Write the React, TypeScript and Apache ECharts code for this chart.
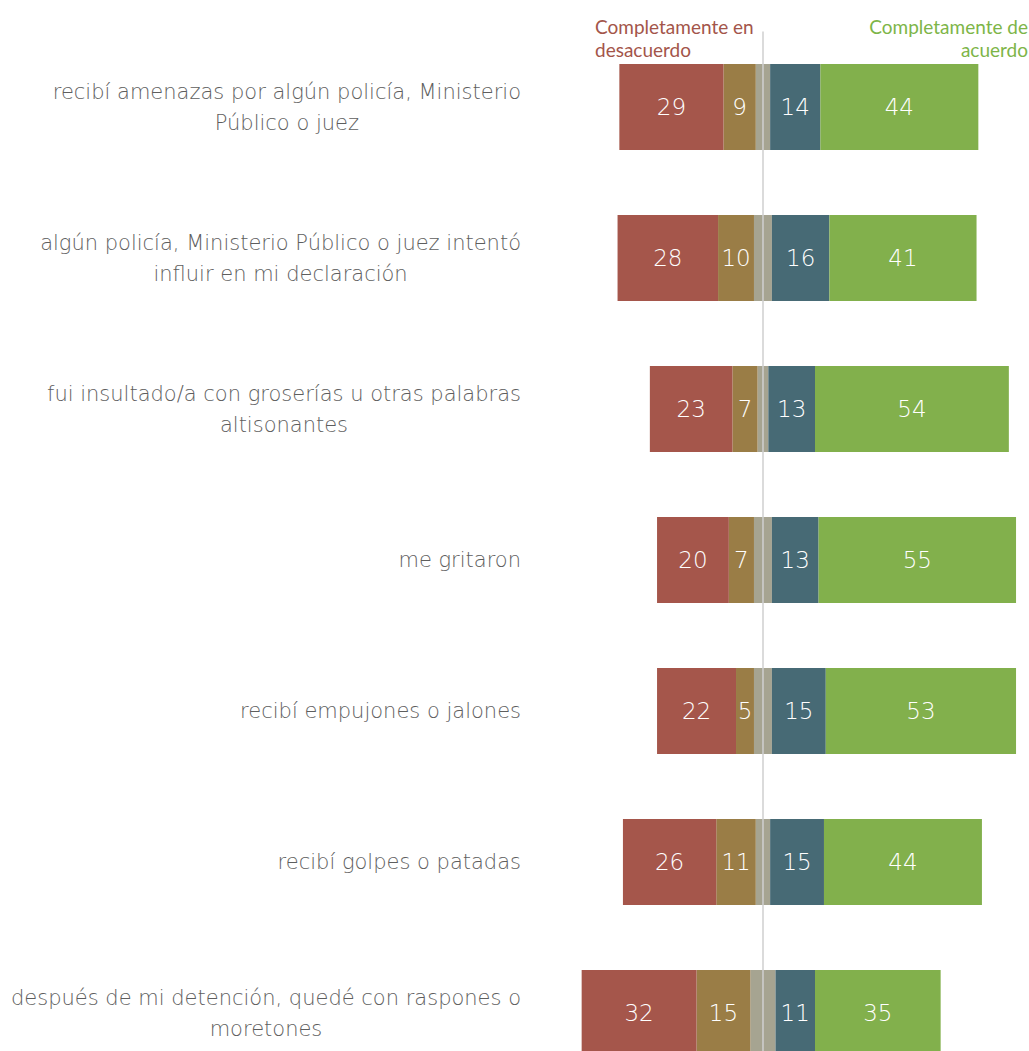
import React, { useEffect, useRef } from "react";
import * as echarts from "echarts";

const categories = [
  "recibí amenazas por algún policía, Ministerio\nPúblico o juez",
  "algún policía, Ministerio Público o juez intentó\ninfluir en mi declaración",
  "fui insultado/a con groserías u otras palabras\naltisonantes",
  "me gritaron",
  "recibí empujones o jalones",
  "recibí golpes o patadas",
  "después de mi detención, quedé con raspones o\nmoretones",
];
const stronglyDisagree = [29, 28, 23, 20, 22, 26, 32];
const disagree = [9, 10, 7, 7, 5, 11, 15];
const neutral = [4, 5, 3, 5, 5, 4, 7];
const agree = [14, 16, 13, 13, 15, 15, 11];
const stronglyAgree = [44, 41, 54, 55, 53, 44, 35];
const headerLeft = "Completamente en\ndesacuerdo";
const headerRight = "Completamente de\nacuerdo";

const BODY_FONT = "'DejaVu Sans', sans-serif";
const HEAD_FONT = "Lato, 'Open Sans', sans-serif";

export default function App() {
  const ref = useRef<HTMLDivElement>(null);
  useEffect(() => {
    if (!ref.current) return;
    const chart = echarts.init(ref.current, undefined, { renderer: "svg" });
    const valueLabel = {
      show: true,
      position: "inside" as const,
      color: "#ffffff",
      fontFamily: BODY_FONT,
      fontWeight: 300 as const,
      fontSize: 23,
      formatter: (p: any) => String(Math.abs(p.value)),
    };
    const base = { type: "bar" as const, stack: "total", barWidth: 86 };
    chart.setOption({
      animation: false,
      backgroundColor: "#ffffff",
      grid: { left: 565.5, width: 463.1, top: 31.5, height: 1057, containLabel: false },
      xAxis: {
        type: "value",
        min: -55,
        max: 74,
        show: false,
        splitLine: { show: false },
      },
      yAxis: {
        type: "category",
        data: categories,
        inverse: true,
        axisLine: { show: false },
        axisTick: { show: false },
        splitLine: { show: false },
        axisLabel: {
          margin: 44.5,
          align: "right",
          fontFamily: BODY_FONT,
          fontWeight: 300,
          fontSize: 21,
          lineHeight: 31,
          color: "#5e5e5e",
          formatter: (v: string) =>
            v
              .split("\n")
              .map((l) => `{c|${l}}`)
              .join("\n"),
          rich: {
            c: {
              align: "center",
              fontFamily: BODY_FONT,
              fontWeight: 300,
              fontSize: 21,
              lineHeight: 31,
              color: "#5e5e5e",
            },
          },
        },
      },
      graphic: [
        {
          type: "text",
          left: 595,
          top: 15,
          style: {
            text: headerLeft,
            fill: "#a3554a",
            fontFamily: HEAD_FONT,
            fontWeight: 400,
            fontSize: 19,
            lineHeight: 23,
            textAlign: "left",
          },
        },
        {
          type: "text",
          right: 1,
          top: 15,
          style: {
            text: headerRight,
            fill: "#7db548",
            fontFamily: HEAD_FONT,
            fontWeight: 400,
            fontSize: 19,
            lineHeight: 23,
            textAlign: "right",
          },
        },
      ],
      series: [
        {
          ...base,
          name: "neutral-left",
          data: neutral.map((v) => -v / 2),
          itemStyle: { color: "#a6a491" },
          label: { show: false },
        },
        {
          ...base,
          name: "neutral-right",
          data: neutral.map((v) => v / 2),
          itemStyle: { color: "#a6a491" },
          label: { show: false },
          markLine: {
            silent: true,
            symbol: "none",
            label: { show: false },
            lineStyle: { color: "#cfcfcf", width: 1.5, type: "solid" },
            data: [{ xAxis: 0 }],
          },
        },
        {
          ...base,
          name: "disagree",
          data: disagree.map((v) => -v),
          itemStyle: { color: "#9a7d46" },
          label: valueLabel,
        },
        {
          ...base,
          name: "agree",
          data: agree,
          itemStyle: { color: "#476a75" },
          label: valueLabel,
        },
        {
          ...base,
          name: "stronglyDisagree",
          data: stronglyDisagree.map((v) => -v),
          itemStyle: { color: "#a5564b" },
          label: valueLabel,
        },
        {
          ...base,
          name: "stronglyAgree",
          data: stronglyAgree,
          itemStyle: { color: "#82b04c" },
          label: valueLabel,
        },
      ],
    });
    return () => chart.dispose();
  }, []);
  return (
    <div
      ref={ref}
      style={{ position: "fixed", left: 0, top: 0, width: 1029, height: 1089, background: "#fff" }}
    />
  );
}
